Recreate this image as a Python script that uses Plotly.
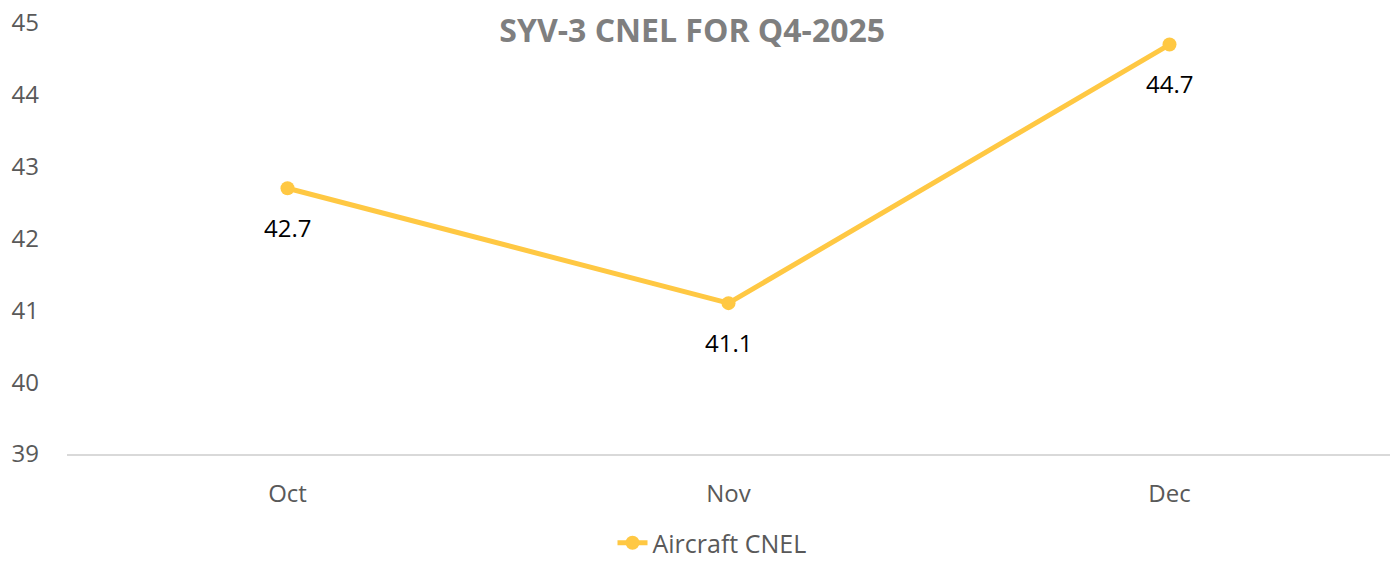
import plotly.graph_objects as go

months = ["Oct", "Nov", "Dec"]
cnel = [42.7, 41.1, 44.7]
y_ticks = [39, 40, 41, 42, 43, 44, 45]
title_text = "SYV-3 CNEL FOR Q4-2025"
series_name = "Aircraft CNEL"

FONT = "Open Sans, sans-serif"
GOLD = "#FFC843"

fig = go.Figure()
fig.add_trace(go.Scatter(
    x=months, y=cnel, name=series_name, mode="lines+markers",
    line=dict(color=GOLD, width=5),
    marker=dict(color=GOLD, size=14),
    cliponaxis=False,
))

for m, v in zip(months, cnel):
    fig.add_annotation(x=m, y=v, text=f"{v:.1f}", showarrow=False,
                       yshift=-39, font=dict(family=FONT, size=24, color="#000000"))

fig.update_layout(
    width=1390, height=566,
    margin=dict(l=67, r=0, t=23, b=112),
    paper_bgcolor="white", plot_bgcolor="white",
    title=dict(text=f"<b>{title_text}</b>", x=0.498, xref="container", xanchor="center",
               y=1 - 31 / 566, yref="container", yanchor="middle",
               font=dict(family=FONT, size=32, color="#7F7F7F")),
    font=dict(family=FONT, size=24, color="#595959"),
    showlegend=True,
    legend=dict(orientation="h", x=712 / 1390, xref="container", xanchor="center",
                y=0.0, yref="container", yanchor="bottom",
                font=dict(family=FONT, size=25, color="#595959")),
    xaxis=dict(type="category", range=[-0.5, 2.5], showgrid=False, zeroline=False,
               showline=True, linecolor="#D9D9D9", linewidth=1.5,
               ticks="", ticklabelstandoff=17,
               tickfont=dict(family=FONT, size=24, color="#595959")),
    yaxis=dict(range=[39, 45], tickvals=y_ticks, showgrid=False, zeroline=False,
               showline=False, ticks="", ticklabelstandoff=27,
               tickfont=dict(family=FONT, size=24, color="#595959")),
)

fig.write_html("out.html", config={"displayModeBar": False},
               post_script="document.body.style.margin='0';document.body.style.overflow='hidden';")
